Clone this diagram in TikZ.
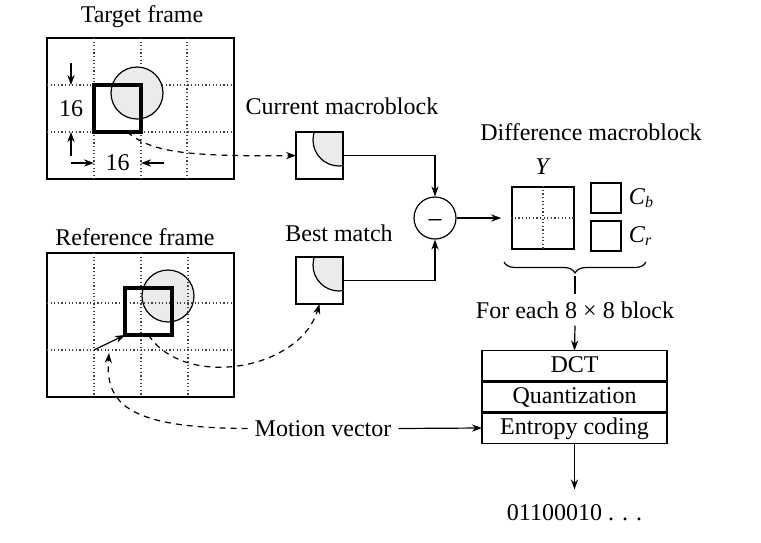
\documentclass[tikz,border=0pt]{standalone}
\usepackage{fontspec}
\setmainfont{Liberation Serif}
\usetikzlibrary{arrows.meta,positioning,calc,decorations.pathreplacing}

\begin{document}
\begin{tikzpicture}[x=0.5pt,y=-0.5pt,
		font=\fontsize{12}{14}\selectfont,
		tip/.style={-{Stealth[length=5pt,width=3.6pt,inset=1.6pt]}},
		frame/.style={line width=1pt},
		griddot/.style={line width=0.6pt,black!75,dash pattern=on 0.6pt off 1.2pt},
		blob/.style={fill=black!8,draw,line width=0.6pt},
		blk/.style={draw,line width=2pt,minimum size=23.5pt,inner sep=0pt,outer sep=0pt},
		mblk/.style={draw,line width=1.2pt,minimum size=23.5pt,inner sep=0pt,outer sep=0pt,
			path picture={\draw[blob] ($(path picture bounding box.north east)+(-4,8)$) circle (13pt);}},
		cbox/.style={draw,line width=0.8pt,minimum size=15pt,inner sep=0pt},
		stage/.style={draw,line width=0.7pt,minimum width=92.5pt,minimum height=15.5pt,
			inner sep=0pt,outer sep=0pt,text height=8.5pt,text depth=2.5pt},
		dashes/.style={line width=0.6pt,dash pattern=on 3pt off 2.5pt}]
		\useasboundingbox (0,0) rectangle (761,542);

		% target frame
		\node at (142,17) (ttitle) {Target frame};
		\draw[frame] (47,38) rectangle (234,179);
		\foreach \x in {94,141,187} \draw[griddot] (\x,38) -- (\x,179);
		\foreach \y in {85,132} \draw[griddot] (47,\y) -- (234,\y);
		\draw[blob] (137,93) circle (13pt);
		\node[blk] at (117.5,108.5) (tblk) {};
		\coordinate (dv1) at (71,63);
		\coordinate (dv2) at (71,156);
		\coordinate (dh1) at (71,163);
		\coordinate (dh2) at (164,163);
		\draw[tip,line width=0.6pt] (dv1) -- (tblk.north -| dv1);
		\draw[tip,line width=0.6pt] (dv2) -- (tblk.south -| dv2);
		\draw[tip,line width=0.6pt] (dh1) -- (tblk.west |- dh1);
		\draw[tip,line width=0.6pt] (dh2) -- (tblk.east |- dh2);
		\node at (71,108.5) (sixv) {16};
		\node at (117.5,163) (sixh) {16};

		% reference frame
		\node at (135,237) (rtitle) {Reference frame};
		\draw[frame] (47,253) rectangle (234,397);
		\draw[blob] (168,296) circle (13pt);
		\foreach \x in {94,141,188} \draw[griddot] (\x,253) -- (\x,397);
		\foreach \y in {303,350} \draw[griddot] (47,\y) -- (234,\y);
		\node[blk] at (148.5,311.5) (rblk) {};
		\coordinate (mvfrom) at (94,350);
		\draw[tip,line width=0.6pt] (mvfrom) -- (rblk.south west);

		% macroblocks
		\node at (342,106) (curtitle) {Current macroblock};
		\node[mblk] at (319.5,155.5) (cur) {};
		\node at (339,233) (besttitle) {Best match};
		\node[mblk] at (319.5,280.5) (best) {};
		\node[circle,draw,line width=0.6pt,minimum size=21pt,inner sep=0pt,
			text height=6.6pt,text depth=0pt] at (435,218) (minus) {\fontsize{14}{14}\selectfont\raisebox{-2.2pt}{−}};
		\draw[tip,line width=0.6pt] (cur.east) -| (minus.north);
		\draw[tip,line width=0.6pt] (best.east) -| (minus.south);

		% difference macroblock
		\node at (591,132) (difftitle) {Difference macroblock};
		\node[draw,line width=0.8pt,minimum size=31pt,inner sep=0pt] at (543,218) (ybox) {};
		\draw[griddot] (ybox.north) -- (ybox.south);
		\draw[griddot] (ybox.west) -- (ybox.east);
		\node at (543,167) (ylab) {\textit{Y}};
		\node[cbox] at (606,198) (cb) {};
		\node[cbox] at (606,236) (cr) {};
		\node[right] at (cb.east) (cblab) {\textit{C}\textsubscript{\textit{b}}};
		\node[right] at (cr.east) (crlab) {\textit{C}\textsubscript{\textit{r}}};
		\draw[tip,line width=0.6pt,shorten >=5pt] (minus.east) -- (ybox.west);
		\draw[line width=0.6pt,decorate,decoration={brace,mirror,amplitude=5.5pt}] (504,262) -- (646,262);
		\coordinate (bracetip) at (575,276);
		\node at (575,310) (each) {For each 8 × 8 block};

		% coder
		\node[stage] at (574.5,366) (dct) {DCT};
		\node[stage,below=0pt of dct] (quant) {Quantization};
		\node[stage,below=0pt of quant] (ent) {Entropy coding};
		\draw[line width=1.4pt] (quant.north west) -- (quant.north east);
		\draw[line width=1.4pt] (ent.north west) -- (ent.north east);
		\draw[line width=0.6pt] (bracetip) -- (each.north);
		\draw[tip,line width=0.6pt] (each.south) -- (dct.north);
		\node[inner ysep=7.5pt] at (574.5,513) (bits) {01100010 . . .};
		\draw[tip,line width=0.6pt] (ent.south) -- (bits.north);

		% motion vector
		\node at (323,428.5) (mv) {Motion vector};
		\draw[tip,line width=0.6pt] (mv.east) -- (ent.west);
		\coordinate (mvtip) at (109,353);
		\draw[tip,dashes] (mv.west) .. controls (130,428) and (105,405) .. (mvtip);
		\draw[tip,dashes] (tblk.-68) .. controls (150,150) and (175,157) .. (cur.west);
		\draw[tip,dashes] (rblk.south) .. controls (185,390) and (300,370) .. (best.south);
	\end{tikzpicture}
\end{document}
